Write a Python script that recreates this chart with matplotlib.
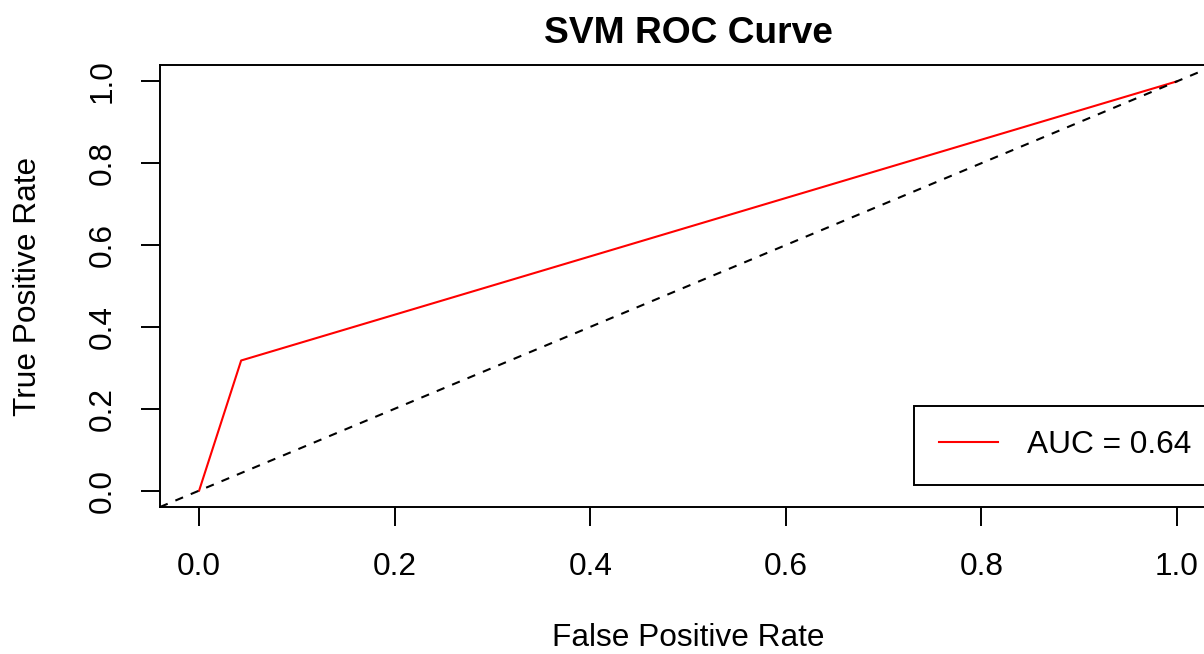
import matplotlib
matplotlib.use('Agg')
import matplotlib.pyplot as plt

# ROC points
fpr = [0.0, 0.043, 1.0]
tpr = [0.0, 0.318, 1.0]
auc = 0.64
ticks = [0.0, 0.2, 0.4, 0.6, 0.8, 1.0]
tick_labels = ['0.0', '0.2', '0.4', '0.6', '0.8', '1.0']


def main():
    plt.rcParams['font.family'] = ['Liberation Sans', 'DejaVu Sans']
    fs = 22.8

    fig = plt.figure(figsize=(12.04, 6.54), dpi=100)
    # R base plot box runs a little past the right edge of the png
    ax = fig.add_axes([160 / 1204, 147 / 654, 1056 / 1204, 442 / 654])

    ax.plot(fpr, tpr, color='#ff0000', lw=1.5, label=f'AUC = {auc:.2f}')
    ax.axline((0, 0), (1, 1), color='black', lw=1.5, linestyle=(0, (4, 4)))

    ax.set_xlim(-0.04, 1.04)
    ax.set_ylim(-0.04, 1.04)
    ax.set_xticks(ticks, tick_labels)
    ax.set_yticks(ticks, tick_labels)
    ax.tick_params(axis='both', direction='out', length=13.7, width=1.4,
                   labelsize=fs)
    ax.tick_params(axis='x', pad=19)
    ax.tick_params(axis='y', pad=17)
    for lab in ax.get_yticklabels():
        lab.set_rotation(90)
        lab.set_va('center')
    for sp in ax.spines.values():
        sp.set_linewidth(1.4)

    ax.set_xlabel('False Positive Rate', fontsize=fs, labelpad=29)
    ax.set_ylabel('True Positive Rate', fontsize=fs, labelpad=32)
    ax.set_title('SVM ROC Curve', fontsize=26.7, fontweight='bold', pad=16)

    leg = ax.legend(loc='lower right', bbox_to_anchor=(1.0, 0.05),
                    borderaxespad=0, fancybox=False, framealpha=1,
                    edgecolor='black', fontsize=fs, handlelength=1.86,
                    handletextpad=0.92, borderpad=0.78)
    leg.get_frame().set_linewidth(1.4)

    fig.savefig('out.png', dpi=100)


if __name__ == '__main__':
    main()
